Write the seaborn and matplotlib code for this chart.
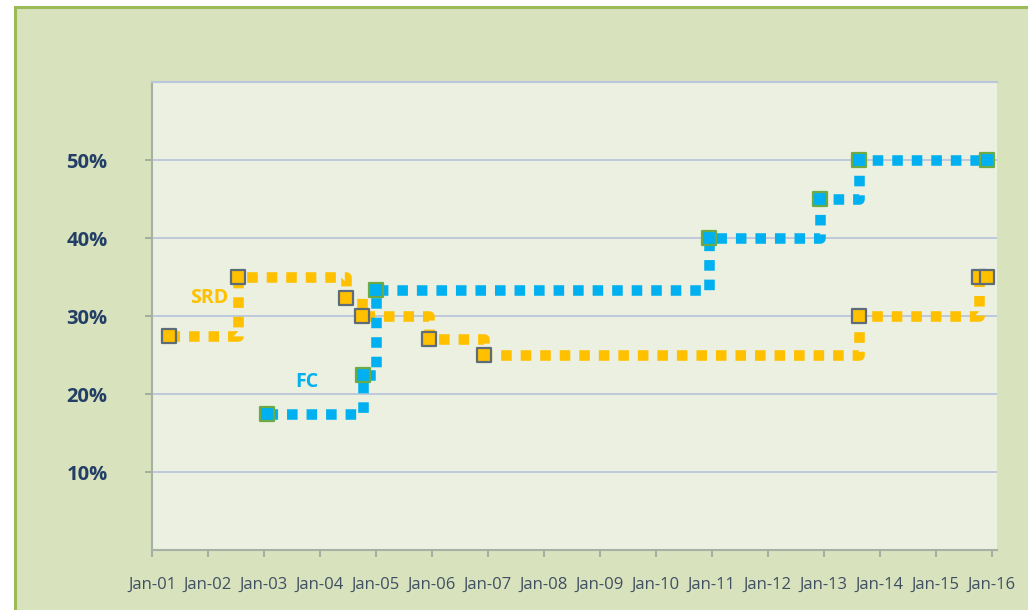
import pandas as pd
import matplotlib
matplotlib.use("Agg")
import matplotlib.pyplot as plt
from matplotlib.patches import Rectangle
import seaborn as sns

# step series (date of change, level in %)
srd_dates = ["2001-04-25", "2002-07-15", "2004-06-20", "2004-10-05", "2005-12-10",
             "2006-12-10", "2013-08-20", "2015-10-12", "2015-12-05"]
srd_values = [27.5, 35, 32.3, 30, 27, 25, 30, 35, 35]

fc_dates = ["2003-01-22", "2004-10-10", "2005-01-04", "2010-12-13", "2012-12-08",
            "2013-08-20", "2015-12-05"]
fc_values = [17.5, 22.5, 33.3, 40, 45, 50, 50]

year_ticks = list(range(2001, 2017))
tick_labels = ["Jan-%02d" % (y % 100) for y in year_ticks]
y_ticks = [10, 20, 30, 40, 50]

srd = pd.DataFrame({"date": pd.to_datetime(srd_dates), "value": srd_values, "series": "SRD"})
fc = pd.DataFrame({"date": pd.to_datetime(fc_dates), "value": fc_values, "series": "FC"})

orange = "#FFC000"
blue = "#00B0F0"

sns.set_style("white")
plt.rcParams["font.family"] = ["Open Sans", "DejaVu Sans"]

fig = plt.figure(figsize=(10.28, 6.10), dpi=100, facecolor="white")
frame = Rectangle((15 / 1028, -0.05), 1.1, (610 - 7) / 610 + 0.05,
                  transform=fig.transFigure, facecolor="#D8E2BD",
                  edgecolor="#9BBB59", linewidth=2.2, zorder=-10)
fig.patches.append(frame)
ax = fig.add_axes([152 / 1028, 60 / 610, 845 / 1028, 468 / 610])
ax.set_zorder(1)
ax.set_facecolor("#EBF0E0")

dots = (0, (1, 0.85))
for df, col, edge in [(srd, orange, "#5E6B78"), (fc, blue, "#6BAA45")]:
    sns.lineplot(data=df, x="date", y="value", ax=ax, color=col, linewidth=7.6,
                 drawstyle="steps-post", linestyle=dots, estimator=None,
                 sort=False, zorder=3)
    sns.scatterplot(data=df, x="date", y="value", ax=ax, marker="s", s=110,
                    color=col, edgecolor=edge, linewidth=1.6, zorder=4)

ax.text(pd.Timestamp("2002-01-10"), 32.3, "SRD", color=orange, fontsize=14,
        fontweight="bold", ha="center", va="center")
ax.text(pd.Timestamp("2003-10-10"), 21.6, "FC", color=blue, fontsize=14,
        fontweight="bold", ha="center", va="center")

ax.set_xlim(pd.Timestamp("2001-01-01"), pd.Timestamp("2016-02-05"))
ax.set_ylim(0, 60)
ax.set_xticks([pd.Timestamp("%d-01-01" % y) for y in year_ticks])
ax.set_xticklabels(tick_labels, fontsize=12, color="#3F4F62")
ax.set_yticks(y_ticks)
ax.set_yticklabels(["%d%%" % v for v in y_ticks], fontsize=14.5, fontweight="bold",
                   color="#243F66")
ax.set_xlabel("")
ax.set_ylabel("")
ax.grid(axis="y", color="#BAC6DC", linewidth=1.3)
ax.tick_params(axis="x", length=5, width=1.2, color="#9AA39A", pad=14, direction="out")
ax.tick_params(axis="y", length=5, width=1.2, color="#9AA39A", pad=27, direction="out")
ax.tick_params(bottom=True, left=True)
ax.spines["right"].set_visible(False)
ax.spines["top"].set_color("#BAC6DC")
ax.spines["top"].set_linewidth(1.5)
ax.spines["left"].set_color("#A7B0A4")
ax.spines["bottom"].set_color("#A7B0A4")
ax.spines["left"].set_linewidth(1.5)
ax.spines["bottom"].set_linewidth(1.5)
legend = ax.get_legend()
if legend:
    legend.remove()

fig.savefig("out.png", dpi=100, facecolor="white")
